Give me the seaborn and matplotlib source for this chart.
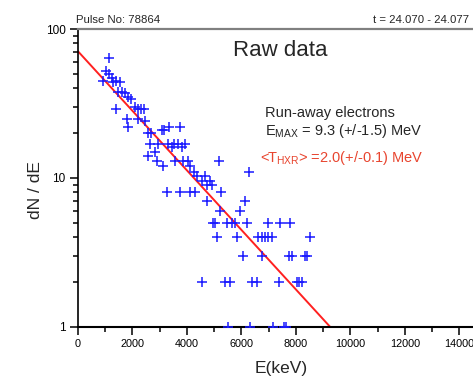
import matplotlib
matplotlib.use("Agg")
import matplotlib.pyplot as plt
import seaborn as sns
import pandas as pd
from matplotlib import font_manager
from matplotlib.ticker import FixedLocator, NullFormatter

# ---- data ----
energy_kev = [
    1138, 1028, 1138, 930, 1236, 1382, 1297, 1541, 1456, 1602, 1725, 1847, 1945,
    1382, 2092, 2190, 2312, 2434, 1786, 2190, 2459, 1847, 3340, 3743, 3072, 3160,
    2582, 2680, 2642, 2925, 3316, 3536, 3683, 3927, 3462, 3805, 2826, 2582,
    2888, 3560, 3865, 4024, 5174, 3132, 4110, 4270, 6287, 4355, 4661, 4539, 4844,
    4722, 4905,
    3254, 3743, 4110, 4294, 5248,
    4722, 6128,
    5211, 5945,
    4966, 5027, 5455, 5639, 5762, 6190, 6985, 7412, 7780,
    5088, 5847, 6617, 6740, 6862, 6985, 7107, 8514,
    6044, 6740, 7755, 7841, 8330, 8416,
    4539, 5395, 5578, 6374, 6557, 7377, 8026, 8110, 8208,
    5505, 6324, 7168, 7560, 7622,
]
dn_de = [
    64, 52, 50, 45, 47, 45, 44, 44, 38, 38, 37, 35, 34,
    29, 30, 29, 29, 29, 25, 25, 24, 22, 22, 22, 21, 21,
    20, 20, 17, 17, 17, 17, 17, 17, 16, 16, 15, 14,
    13, 13, 13, 13, 13, 12, 12, 11, 11, 10.3, 10.3, 9.5, 9.5,
    8.9, 8.9,
    8, 8, 8, 8, 8,
    7, 7,
    6, 6,
    5, 5, 5, 5, 5, 5, 5, 5, 5,
    4, 4, 4, 4, 4, 4, 4, 4,
    3, 3, 3, 3, 3, 3,
    2, 2, 2, 2, 2, 2, 2, 2, 2,
    1, 1, 1, 1, 1,
]
fit_energy_kev = [0, 9250]
fit_dn_de = [70.8, 1.0]

x_ticks = [0, 2000, 4000, 6000, 8000, 10000, 12000, 14000]
y_ticks = [1, 10, 100]
y_tick_labels = ["1", "10", "100"]

pulse_text = "Pulse No: 78864"
time_text = "t = 24.070 - 24.077"
title_text = "Raw data"
info_line1 = "Run-away electrons"
info_line2 = r"E$_{\mathrm{MAX}}$ = 9.3 (+/-1.5) MeV"
info_line3 = r"<T$_{\mathrm{HXR}}$> =2.0(+/-0.1) MeV"
x_label = "E(keV)"
y_label = "dN / dE"

# ---- style ----
sns.set_style("ticks")
plt.rcParams["font.family"] = ["Liberation Sans", "DejaVu Sans"]
plt.rcParams["mathtext.fontset"] = "custom"
plt.rcParams["mathtext.rm"] = "Liberation Sans"
plt.rcParams["mathtext.it"] = "Liberation Sans:italic"
plt.rcParams["mathtext.bf"] = "Liberation Sans:bold"

installed = {f.name for f in font_manager.fontManager.ttflist}
narrow = "Liberation Sans Narrow" if "Liberation Sans Narrow" in installed else "Liberation Sans"
narrow_size = 9 if narrow == "Liberation Sans Narrow" else 7.8

W, H = 473, 376
fig = plt.figure(figsize=(W / 100, H / 100), dpi=100)
ax_left, ax_right, ax_top, ax_bottom = 78, 473, 29, 326.7
ax = fig.add_axes([ax_left / W, 1 - ax_bottom / H,
                   (ax_right - ax_left) / W, (ax_bottom - ax_top) / H])

pts = pd.DataFrame({"E": energy_kev, "dNdE": dn_de})
fit = pd.DataFrame({"E": fit_energy_kev, "dNdE": fit_dn_de})

sns.lineplot(data=fit, x="E", y="dNdE", ax=ax, color="#ff2020", linewidth=1.4, zorder=2)
sns.scatterplot(data=pts, x="E", y="dNdE", ax=ax, marker="+", s=56,
                color="#1a1aff", linewidth=1.1, zorder=3)

ax.set_yscale("log")
ax.set_xlim(0, 14500)
ax.set_ylim(1, 100)

ax.xaxis.set_major_locator(FixedLocator(x_ticks))
ax.set_xticklabels([str(t) for t in x_ticks])
ax.xaxis.set_minor_locator(FixedLocator([t + 1000 for t in x_ticks]))
ax.yaxis.set_major_locator(FixedLocator(y_ticks))
ax.set_yticklabels(y_tick_labels)
ax.yaxis.set_minor_locator(FixedLocator([m * d for d in (1, 10) for m in range(2, 10)]))
ax.yaxis.set_minor_formatter(NullFormatter())

ax.tick_params(axis="both", which="major", length=6, width=1.1,
               color="black", labelcolor="black", pad=3)
ax.tick_params(axis="both", which="minor", length=3.5, width=1.1, color="black")
for lab in ax.get_xticklabels():
    lab.set_fontfamily([narrow, "DejaVu Sans"])
    lab.set_fontsize(narrow_size)
for lab in ax.get_yticklabels():
    lab.set_fontfamily([narrow, "DejaVu Sans"])
    lab.set_fontsize(narrow_size + 0.7)
ax.set_xlabel("")
ax.set_ylabel("")

ax.spines["right"].set_visible(False)
ax.spines["top"].set_color("#808080")
ax.spines["top"].set_linewidth(1.6)
ax.spines["left"].set_color("black")
ax.spines["left"].set_linewidth(1.2)
ax.spines["bottom"].set_color("black")
ax.spines["bottom"].set_linewidth(1.5)


def fx(px):
    return px / W


def fy(py):
    return 1 - py / H


fig.text(fx(76), fy(23), pulse_text, fontsize=narrow_size + 0.4, ha="left", va="baseline",
         family=[narrow, "DejaVu Sans"])
fig.text(fx(469), fy(23), time_text, fontsize=narrow_size + 0.4, ha="right", va="baseline",
         family=[narrow, "DejaVu Sans"])
fig.text(fx(280), fy(51), title_text, fontsize=16, ha="center", va="center")
fig.text(fx(265), fy(116.7), info_line1, fontsize=10.5, ha="left", va="baseline")
fig.text(fx(265), fy(135), info_line2, fontsize=10.5, ha="left", va="baseline")
fig.text(fx(260), fy(161.7), info_line3, fontsize=10.5, ha="left", va="baseline",
         color="#e8452f")
fig.text(fx(281), fy(368), x_label, fontsize=12.5, ha="center", va="center")
fig.text(fx(35), fy(190), y_label, fontsize=12.5, ha="center", va="center", rotation=90)

fig.savefig("out.png", dpi=100)
